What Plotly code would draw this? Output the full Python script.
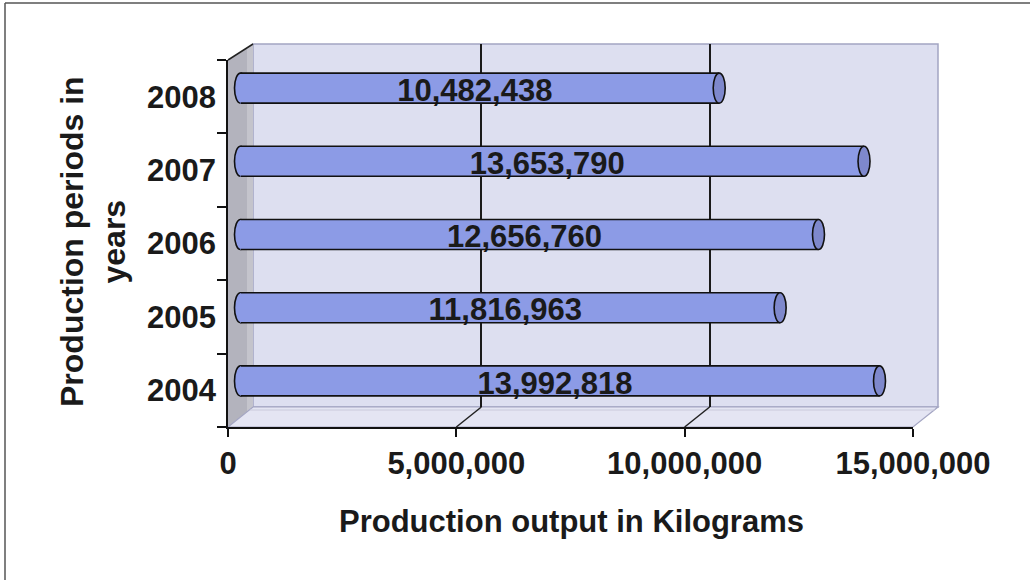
import plotly.graph_objects as go

# Annual production output (kg)
years = ["2004", "2005", "2006", "2007", "2008"]
output_kg = [13992818, 11816963, 12656760, 13653790, 10482438]
x_ticks = [0, 5000000, 10000000, 15000000]
grid_vals = [5000000, 10000000]
x_max = 15000000

W, H = 1030, 580


def px(x):
    return x / W


def py(y):
    return 1 - y / H


# pixel geometry of the 3D box: front plane, back wall, the mid-depth plane of the
# cylinders and a plane a third of the way back for the value labels
FRONT = dict(l=228, r=913, t=60, b=427)
BACK = dict(l=253, r=938, t=44, b=407)
MID = dict(l=240.5, r=925.5, t=51.5, b=417.5)
LABEL = dict(l=235.5, r=920.5, t=56.5, b=422.5)

FONT = "Arial, 'Liberation Sans', sans-serif"
TXT = "#1a1a1a"
BAR = "#8c9be6"
CAP = "#7e88cc"
WALL = "#dddff0"
FLOOR = "#e4e5f3"
SIDE = "#b3b3bd"
EDGE = "#a3a5c2"


def bold(size):
    return dict(family=FONT, size=size, color=TXT, weight="bold")


def front_x(v):
    return FRONT["l"] + v / x_max * (FRONT["r"] - FRONT["l"])


def back_x(v):
    return BACK["l"] + v / x_max * (BACK["r"] - BACK["l"])


# room left of zero on the cylinder axis so the rounded bases are not clipped
x_lo = -600000
mid_left = MID["l"] + x_lo / x_max * (MID["r"] - MID["l"])

fig = go.Figure()

# back wall gridlines (subplot x/y)
fig.add_trace(go.Scatter(x=[0], y=[0], mode="markers", marker=dict(opacity=0),
                         hoverinfo="skip", showlegend=False, xaxis="x", yaxis="y"))
# front axes carrying ticks and labels (subplot x2/y2)
fig.add_trace(go.Scatter(x=output_kg, y=years, mode="markers", marker=dict(opacity=0),
                         hoverinfo="skip", showlegend=False, xaxis="x2", yaxis="y2"))
# cylinder bodies (subplot x3/y3)
BAR_W = 0.41
fig.add_trace(go.Bar(x=output_kg, y=years, orientation="h", width=BAR_W,
                     marker=dict(color=BAR, line=dict(width=0)),
                     hoverinfo="skip", showlegend=False, xaxis="x3", yaxis="y3"))
# value labels centred on each cylinder (subplot x4/y4)
fig.add_trace(go.Scatter(x=[v / 2 for v in output_kg], y=years, mode="text",
                         text=[f"{v:,}" for v in output_kg], textposition="middle center",
                         textfont=bold(31), cliponaxis=False,
                         hoverinfo="skip", showlegend=False, xaxis="x4", yaxis="y4"))

shapes = []
# frame around the chart
shapes.append(dict(type="line", xref="paper", yref="paper", x0=px(5), x1=px(5), y0=py(3), y1=py(580),
                   line=dict(color="#555555", width=1.5), layer="below"))
shapes.append(dict(type="line", xref="paper", yref="paper", x0=px(5), x1=px(1030), y0=py(3), y1=py(3),
                   line=dict(color="#555555", width=1.5), layer="below"))
# back wall
shapes.append(dict(type="rect", xref="paper", yref="paper",
                   x0=px(BACK["l"]), x1=px(BACK["r"]), y0=py(BACK["b"]), y1=py(BACK["t"]),
                   fillcolor=WALL, line=dict(color=EDGE, width=1.5), layer="below"))
# side wall, lighter strip where it meets the back wall
shapes.append(dict(type="path", xref="paper", yref="paper",
                   path=(f"M {px(FRONT['l'])} {py(FRONT['t'])} L {px(BACK['l'])} {py(BACK['t'])} "
                         f"L {px(BACK['l'])} {py(BACK['b'])} L {px(FRONT['l'])} {py(FRONT['b'])} Z"),
                   fillcolor=SIDE, line=dict(width=0), layer="below"))
shapes.append(dict(type="path", xref="paper", yref="paper",
                   path=(f"M {px(BACK['l'] - 6)} {py(BACK['t'] + 4)} L {px(BACK['l'])} {py(BACK['t'])} "
                         f"L {px(BACK['l'])} {py(BACK['b'])} L {px(BACK['l'] - 6)} {py(BACK['b'] + 5)} Z"),
                   fillcolor="#c4c4cc", line=dict(width=0), layer="below"))
# floor
shapes.append(dict(type="path", xref="paper", yref="paper",
                   path=(f"M {px(FRONT['l'])} {py(FRONT['b'])} L {px(FRONT['r'])} {py(FRONT['b'])} "
                         f"L {px(BACK['r'])} {py(BACK['b'])} L {px(BACK['l'])} {py(BACK['b'])} Z"),
                   fillcolor=FLOOR, line=dict(color=EDGE, width=1.2), layer="below"))
shapes.append(dict(type="line", xref="paper", yref="paper",
                   x0=px(BACK["l"] - 3), x1=px(BACK["r"] - 3), y0=py(BACK["b"] + 3), y1=py(BACK["b"] + 3),
                   line=dict(color="#c9cadb", width=1), layer="below"))
# top edge of the side wall
shapes.append(dict(type="line", xref="paper", yref="paper",
                   x0=px(FRONT["l"]), y0=py(FRONT["t"]), x1=px(BACK["l"]), y1=py(BACK["t"]),
                   line=dict(color="#222222", width=1.5)))
# gridline traces across the floor
for v in grid_vals:
    shapes.append(dict(type="line", xref="paper", yref="paper",
                       x0=px(back_x(v)), y0=py(BACK["b"]), x1=px(front_x(v)), y1=py(FRONT["b"]),
                       line=dict(color="#222222", width=1.5)))

half = x_max * 6 / (MID["r"] - MID["l"])
for i, v in enumerate(output_kg):
    # rounded base of the cylinder
    shapes.append(dict(type="circle", xref="x3", yref="y3",
                       x0=-half, x1=half, y0=i - BAR_W / 2, y1=i + BAR_W / 2,
                       fillcolor=BAR, line=dict(color="#111111", width=1.6), layer="below"))
    # outline along the top and bottom of the body
    for s in (-1, 1):
        shapes.append(dict(type="line", xref="x3", yref="y3",
                           x0=0, x1=v, y0=i + s * BAR_W / 2, y1=i + s * BAR_W / 2,
                           line=dict(color="#111111", width=1.6)))
    # end cap
    shapes.append(dict(type="circle", xref="x3", yref="y3",
                       x0=v - half, x1=v + half, y0=i - BAR_W / 2, y1=i + BAR_W / 2,
                       fillcolor=CAP, line=dict(color="#111111", width=1.6)))

annotations = [
    dict(xref="paper", yref="paper", x=px(571), y=py(521),
         text="Production output in Kilograms", showarrow=False,
         font=bold(31), xanchor="center", yanchor="middle"),
    dict(xref="paper", yref="paper", x=px(93), y=py(242),
         text="Production periods in<br>years", showarrow=False, textangle=-90,
         font=bold(32), xanchor="center", yanchor="middle"),
]

hidden = dict(visible=False, automargin=False, fixedrange=True)

fig.update_layout(
    width=W, height=H, autosize=False,
    margin=dict(l=0, r=0, t=0, b=0, pad=0, autoexpand=False),
    paper_bgcolor="white",
    plot_bgcolor="rgba(0,0,0,0)",
    showlegend=False,
    bargap=0,
    shapes=shapes,
    annotations=annotations,
    # back wall
    xaxis=dict(domain=[px(BACK["l"]), px(BACK["r"])], range=[0, x_max], anchor="y",
               tickvals=grid_vals, showticklabels=False, ticks="", showgrid=True,
               gridcolor="#1a1a1a", gridwidth=1.5, zeroline=False, showline=False,
               automargin=False, fixedrange=True),
    yaxis=dict(domain=[py(BACK["b"]), py(BACK["t"])], range=[0, 1], anchor="x", **hidden),
    # front axes
    xaxis2=dict(domain=[px(FRONT["l"]), px(FRONT["r"])], range=[0, x_max], anchor="y2",
                tickvals=x_ticks, tickformat=",d", ticks="outside", ticklen=8, tickwidth=1.8,
                tickcolor="#111111", showline=True, linecolor="#111111", linewidth=1.8,
                showgrid=False, zeroline=False, tickfont=bold(31), automargin=False,
                fixedrange=True),
    yaxis2=dict(domain=[py(FRONT["b"]), py(FRONT["t"])], anchor="x2", type="category",
                categoryorder="array", categoryarray=years, range=[-0.5, 4.5],
                tickson="boundaries", ticks="outside", ticklen=9, tickwidth=1.8,
                ticklabelstandoff=4,
                tickcolor="#111111", showline=True, linecolor="#111111", linewidth=1.8,
                showgrid=False, zeroline=False, tickfont=bold(31), automargin=False,
                fixedrange=True),
    # mid-depth plane of the cylinders
    xaxis3=dict(domain=[px(mid_left), px(MID["r"])], range=[x_lo, x_max], anchor="y3", **hidden),
    yaxis3=dict(domain=[py(MID["b"]), py(MID["t"])], anchor="x3", type="category",
                categoryorder="array", categoryarray=years, range=[-0.5, 4.5], **hidden),
    # plane of the value labels
    xaxis4=dict(domain=[px(LABEL["l"]), px(LABEL["r"])], range=[0, x_max], anchor="y4", **hidden),
    yaxis4=dict(domain=[py(LABEL["b"]), py(LABEL["t"])], anchor="x4", type="category",
                categoryorder="array", categoryarray=years, range=[-0.5, 4.5], **hidden),
)

fig.write_html("out.html")
